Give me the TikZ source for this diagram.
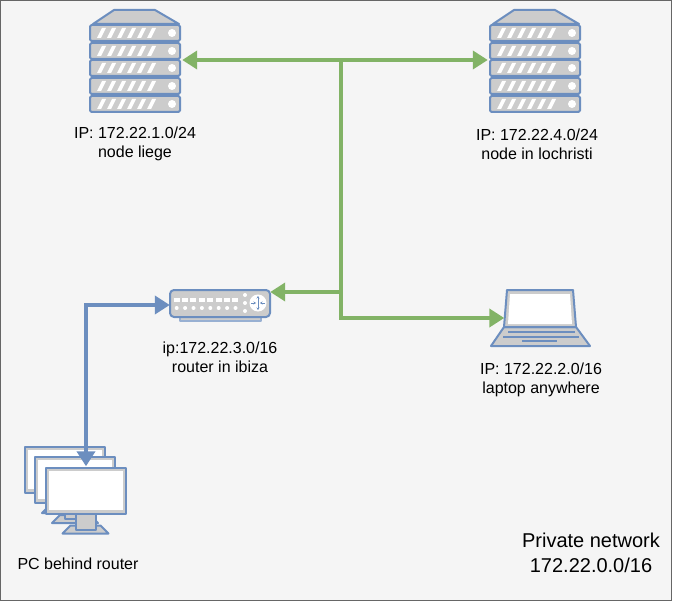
\documentclass[tikz,border=0pt]{standalone}
\usepackage{fontspec}
\setmainfont{Liberation Sans}
\usetikzlibrary{calc, positioning, arrows.meta}

\definecolor{iconblue}{HTML}{6C8EBF}
\definecolor{icongray}{HTML}{CCCCCC}
\definecolor{linkgreen}{HTML}{82B366}
\definecolor{panelgray}{HTML}{F5F5F5}

\tikzset{
    x=1pt, y=-1pt,
    anchorbox/.style={inner sep=0pt, minimum size=0pt},
    iconlabel/.style={align=center, font=\fontsize{16}{19}\selectfont, text=black},
    greenlink/.style={draw=linkgreen, line width=4pt, -{Triangle[length=15pt, width=18pt]}},
    bluelink/.style={draw=iconblue, line width=4pt, {Triangle[length=15pt, width=18pt]}-{Triangle[length=15pt, width=18pt]}},
    iconline/.style={draw=iconblue, line width=2pt, line join=round},
    pics/serverunit/.style={code={
        \draw[iconline, fill=icongray, rounded corners=1.5pt] (0,0) rectangle (90,16);
        \foreach \i in {0,...,5}
            \fill[white] ({7+\i*10},13) -- ({12+\i*10},3) -- ({16+\i*10},3) -- ({11+\i*10},13) -- cycle;
        \fill[white] (82,8) circle (4);
    }},
    pics/server/.style={code={
        \draw[iconline, fill=icongray] (-42,-36) -- (-21,-50) -- (20,-50) -- (44,-36) -- cycle;
        \foreach \ytop in {-35,-17,0,18,36}
            \pic at (-45,\ytop) {serverunit};
    }},
    pics/monitor/.style={code={
        \draw[iconline, fill=icongray] (-23,20) -- (-15,12) -- (15,12) -- (23,20) -- cycle;
        \draw[iconline, fill=icongray] (-10,0) rectangle (10,16);
        \draw[iconline, fill=icongray] (-40,-46) rectangle (40,0);
        \fill[white] (-37,-43) rectangle (37,-4);
    }}
}

\begin{document}
\begin{tikzpicture}
    \useasboundingbox (0,0) rectangle (676,601);
    \draw[draw=black!60, fill=panelgray, line width=1pt] (0.5,0.5) rectangle (671,600);

    % icon anchors
    \node[anchorbox, minimum width=94pt, minimum height=102pt](liege) at (135,60){};
    \node[anchorbox, minimum width=94pt, minimum height=102pt](lochristi) at (535,60){};
    \node[anchorbox, minimum width=100pt, minimum height=27pt](ibiza) at (220,304){};
    \node[anchorbox, minimum width=71pt, minimum height=37pt](laptop) at (540,309){};
    \node[anchorbox, minimum width=82pt, minimum height=47pt](pc) at (86,490){};

    % servers
    \pic at (liege) {server};
    \pic at (lochristi) {server};

    % router
    \draw[iconline, draw=iconblue!70, fill=icongray] (180,317) rectangle (261,321);
    \draw[iconline, fill=icongray, rounded corners=4pt] (170,290) rectangle (270,317);
    \foreach \i in {0,...,7} {
        \fill[white] ({173.5+\i*8.4},298) rectangle ({179.5+\i*8.4},302);
        \fill[white] ({176.7+\i*8.4},308) circle (2);
    }
    \foreach \ydot in {295,303,311}
        \fill[white] (245,\ydot) circle (2);
    \fill[white] (258,303) circle (8.5);
    \draw[iconblue, line width=0.7pt, <->, >={Stealth[length=2.5pt, width=3pt]}] (258,296) -- (258,310);
    \draw[iconblue, line width=0.7pt, ->, >={Stealth[length=2.5pt, width=3pt]}] (251,303) -- (256,303);
    \draw[iconblue, line width=0.7pt, ->, >={Stealth[length=2.5pt, width=3pt]}] (265,303) -- (260,303);

    % laptop
    \draw[iconline, fill=icongray] (504,327) -- (491,346) -- (590,346) -- (576,327) -- cycle;
    \draw[iconline, fill=icongray] (507,290) -- (573,290) -- (576,327) -- (504,327) -- cycle;
    \fill[white] (510,294) -- (570,294) -- (572,324) -- (508,324) -- cycle;
    \draw[iconline, line width=1.4pt] (508,332) -- (575,332);
    \draw[iconline, line width=1.4pt] (503,337) -- (579,337);
    \draw[iconline, line width=1.4pt] (522,341) -- (557,341);

    % monitors
    \pic at (65,493) {monitor};
    \pic at (75,503) {monitor};
    \pic at (85.5,513.5) {monitor};

    % labels
    \node[iconlabel](liegetext) at (135,144){IP: 172.22.1.0/24\\node liege};
    \node[iconlabel](lochristitext) at (537,144){IP: 172.22.4.0/24\\node in lochristi};
    \node[iconlabel](ibizatext) at (220,357){ip:172.22.3.0/16\\router in ibiza};
    \node[iconlabel](laptoptext) at (541,380){IP: 172.22.2.0/16\\laptop anywhere};
    \node[iconlabel](pctext) at (78,564){PC behind router};
    \node[align=center, font=\fontsize{20}{25}\selectfont](nettext) at (591,553){Private network\\172.22.0.0/16};

    % links
    \coordinate (top) at (341,60);
    \coordinate (midr) at (341,292);
    \coordinate (midl) at (341,318);
    \coordinate (bend) at (86,305);

    \draw[greenlink] (top) -- (liege.east);
    \draw[greenlink] (top) -- (lochristi.west);
    \draw[greenlink] (top) -- (midl) -- (laptop.west |- midl);
    \draw[greenlink] (midr) -- (ibiza.east |- midr);
    \draw[bluelink] (ibiza.west |- bend) -- (bend) -- (pc.north);
\end{tikzpicture}
\end{document}
